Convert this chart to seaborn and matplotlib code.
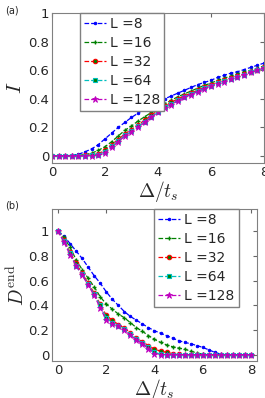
import numpy as np
import matplotlib
matplotlib.use('Agg')
import matplotlib.pyplot as plt
import seaborn as sns

sns.set_style('white')
plt.rcParams['font.family'] = ['DejaVu Sans']
plt.rcParams['mathtext.fontset'] = 'cm'

delta = [0, 0.25, 0.5, 0.75, 1, 1.25, 1.5, 1.75, 2, 2.25, 2.5, 2.75, 3, 3.25, 3.5, 3.75,
         4, 4.25, 4.5, 4.75, 5, 5.25, 5.5, 5.75, 6, 6.25, 6.5, 6.75, 7, 7.25, 7.5, 7.75, 8]
sizes = ['8', '16', '32', '64', '128']

# panel (a): I
I_8 = [0, 0, 0.002, 0.005, 0.012, 0.03, 0.05, 0.08, 0.12, 0.16, 0.2, 0.235, 0.27, 0.3, 0.33, 0.355,
       0.38, 0.40, 0.42, 0.44, 0.46, 0.48, 0.50, 0.515, 0.53, 0.55, 0.565, 0.58, 0.59, 0.605, 0.62, 0.635, 0.65]
I_16 = [0, 0, 0, 0.002, 0.005, 0.01, 0.02, 0.04, 0.065, 0.1, 0.14, 0.18, 0.21, 0.245, 0.275, 0.305,
        0.34, 0.365, 0.39, 0.415, 0.435, 0.455, 0.475, 0.495, 0.51, 0.53, 0.545, 0.56, 0.575, 0.59, 0.60, 0.615, 0.63]
I_32 = [0, 0, 0, 0, 0.002, 0.005, 0.01, 0.015, 0.04, 0.08, 0.115, 0.155, 0.185, 0.22, 0.25, 0.285,
        0.32, 0.35, 0.375, 0.40, 0.42, 0.44, 0.46, 0.48, 0.50, 0.515, 0.53, 0.545, 0.56, 0.575, 0.59, 0.60, 0.62]
I_64 = [0, 0, 0, 0, 0, 0.002, 0.005, 0.01, 0.03, 0.07, 0.105, 0.145, 0.175, 0.21, 0.24, 0.275,
        0.31, 0.34, 0.365, 0.39, 0.41, 0.435, 0.455, 0.475, 0.49, 0.51, 0.525, 0.54, 0.555, 0.57, 0.585, 0.60, 0.615]
I_128 = [0, 0, 0, 0, 0, 0, 0.002, 0.005, 0.02, 0.06, 0.10, 0.14, 0.17, 0.2, 0.235, 0.27,
         0.305, 0.335, 0.36, 0.385, 0.41, 0.43, 0.45, 0.47, 0.49, 0.505, 0.52, 0.54, 0.555, 0.57, 0.585, 0.60, 0.615]

# panel (b): D^end
D_8 = [1, 0.96, 0.9, 0.84, 0.78, 0.71, 0.64, 0.58, 0.51, 0.45, 0.40, 0.35, 0.31, 0.28, 0.25, 0.22,
       0.195, 0.175, 0.155, 0.135, 0.115, 0.10, 0.09, 0.075, 0.06, 0.04, 0.02, 0.005, 0, 0, 0, 0, 0]
D_16 = [1, 0.95, 0.87, 0.77, 0.69, 0.62, 0.55, 0.47, 0.41, 0.37, 0.33, 0.30, 0.26, 0.22, 0.19, 0.155,
        0.125, 0.10, 0.08, 0.065, 0.055, 0.045, 0.03, 0.015, 0.005, 0, 0, 0, 0, 0, 0, 0, 0]
D_32 = [1, 0.93, 0.83, 0.74, 0.66, 0.58, 0.5, 0.41, 0.32, 0.28, 0.245, 0.215, 0.18, 0.14, 0.105, 0.075,
        0.045, 0.03, 0.02, 0.01, 0.003, 0, 0, 0, 0, 0, 0, 0, 0, 0, 0, 0, 0]
D_64 = [1, 0.92, 0.82, 0.72, 0.65, 0.57, 0.49, 0.40, 0.30, 0.26, 0.235, 0.205, 0.17, 0.13, 0.095, 0.06,
        0.02, 0.005, 0, 0, 0, 0, 0, 0, 0, 0, 0, 0, 0, 0, 0, 0, 0]
D_128 = [1, 0.91, 0.81, 0.72, 0.645, 0.565, 0.48, 0.38, 0.28, 0.25, 0.23, 0.2, 0.16, 0.12, 0.09, 0.05,
         0.01, 0, 0, 0, 0, 0, 0, 0, 0, 0, 0, 0, 0, 0, 0, 0, 0]

styles = [
    dict(color='b', marker='.', mfc='b', mec='b', ms=3.5),
    dict(color='g', marker='+', mfc='g', mec='g', ms=3.5, mew=1),
    dict(color='r', marker='o', mfc='g', mec='r', ms=3.2, mew=0.8),
    dict(color='c', marker='s', mfc='g', mec='c', ms=3.2, mew=0.8),
    dict(color='m', marker='*', mfc='m', mec='m', ms=4.5, mew=0.6),
]

fig = plt.figure(figsize=(2.65, 3.98), dpi=100)
ax1 = fig.add_axes([0.196, 0.590, 0.800, 0.377])
ax2 = fig.add_axes([0.196, 0.093, 0.774, 0.382])


def draw(ax, series):
    for lab, ys, st in zip(sizes, series, styles):
        sns.lineplot(x=delta, y=ys, ax=ax, linestyle='--', lw=0.9, label='L =' + lab, **st)


draw(ax1, [I_8, I_16, I_32, I_64, I_128])
draw(ax2, [D_8, D_16, D_32, D_64, D_128])

ax1.set_xlim(0, 8)
ax1.set_ylim(-0.05, 1.0)
ax2.set_xlim(-0.25, 8.25)
ax2.set_ylim(-0.05, 1.18)

for ax in (ax1, ax2):
    ax.set_xticks([0, 2, 4, 6, 8])
    ax.set_yticks([0, 0.2, 0.4, 0.6, 0.8, 1])
    ax.set_yticklabels(['0', '0.2', '0.4', '0.6', '0.8', '1'])
    ax.tick_params(direction='in', top=True, right=True, length=3, labelsize=9.5,
                   color='0.4', pad=2)
    for s in ax.spines.values():
        s.set_color('0.5')
        s.set_linewidth(0.8)
    ax.set_xlabel(r'$\Delta/t_s$', fontsize=14, labelpad=0)

ax1.set_ylabel(r'$I$', fontsize=15, labelpad=2)
ax2.set_ylabel(r'$D^{\rm end}$', fontsize=14, labelpad=0)

leg_kw = dict(fontsize=10, handlelength=1.6, handletextpad=0.3, labelspacing=0.35,
              borderpad=0.3, frameon=True, fancybox=False, edgecolor='0.5', framealpha=1)
ax1.legend(loc='upper left', bbox_to_anchor=(0.13, 1.0), borderaxespad=0, **leg_kw)
ax2.legend(loc='upper right', bbox_to_anchor=(0.91, 1.0), borderaxespad=0, **leg_kw)

fig.text(0.02, 0.985, '(a)', fontsize=7, va='top')
fig.text(0.02, 0.495, '(b)', fontsize=7, va='top')

fig.savefig('out.png', dpi=100)
